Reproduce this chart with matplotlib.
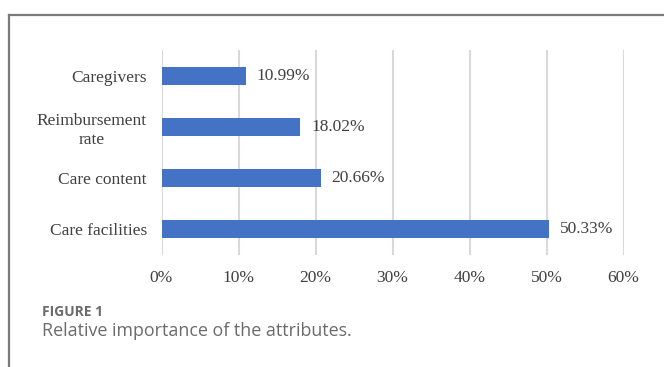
import matplotlib
matplotlib.use('Agg')
import matplotlib.pyplot as plt
from matplotlib.lines import Line2D
from matplotlib.ticker import FuncFormatter

# data, top to bottom as shown
categories = ["Caregivers", "Reimbursement\nrate", "Care content", "Care facilities"]
importance = [10.99, 18.02, 20.66, 50.33]
x_ticks = [0, 10, 20, 30, 40, 50, 60]

W, H = 664, 367
fig = plt.figure(figsize=(W / 100, H / 100), dpi=100)
fig.patch.set_facecolor('white')

# frame around the figure (top and left visible)
fig.add_artist(Line2D([9 / W, 9 / W], [0, 1 - 15 / H], color='#7a7a7a', lw=1.6))
fig.add_artist(Line2D([9 / W, 1], [1 - 15 / H, 1 - 15 / H], color='#7a7a7a', lw=1.6))

ax = fig.add_axes([161.5 / W, 1 - 255 / H, 462 / W, 205 / H])

ypos = list(range(len(categories)))[::-1]
bars = ax.barh(ypos, importance, height=0.35, color='#4472C4', zorder=3)

serif = 'Liberation Serif'
fs = 12.5
for y, v in zip(ypos, importance):
    ax.text(v + 1.4, y, f"{v:.2f}%", va='center', ha='left', fontsize=fs,
            family=serif, color='#404040')

ax.set_xlim(0, 60)
ax.set_ylim(-0.5, 3.5)
ax.set_xticks(x_ticks)
ax.xaxis.set_major_formatter(FuncFormatter(lambda v, p: f"{v:.0f}%"))
ax.set_yticks(ypos)
ax.set_yticklabels(categories, ha='right', multialignment='center', linespacing=1.3)
ax.tick_params(axis='y', length=0, pad=10.5, labelsize=fs, labelcolor='#404040')
ax.tick_params(axis='x', length=0, pad=10.5, labelsize=fs, labelcolor='#404040')
for lab in ax.get_xticklabels() + ax.get_yticklabels():
    lab.set_family(serif)

ax.grid(axis='x', color='#d9d9d9', lw=1.5, zorder=0)
ax.set_axisbelow(True)
for s in ax.spines.values():
    s.set_visible(False)

# caption
fig.text(42 / W, 1 - 312.5 / H, "FIGURE 1", fontsize=10, fontweight='bold',
         family='Open Sans', color='#6b6b6b', va='center', ha='left')
fig.text(42 / W, 1 - 331 / H, "Relative importance of the attributes.", fontsize=12.9,
         family='Open Sans', color='#6b6b6b', va='center', ha='left')

fig.savefig('out.png', dpi=100)
